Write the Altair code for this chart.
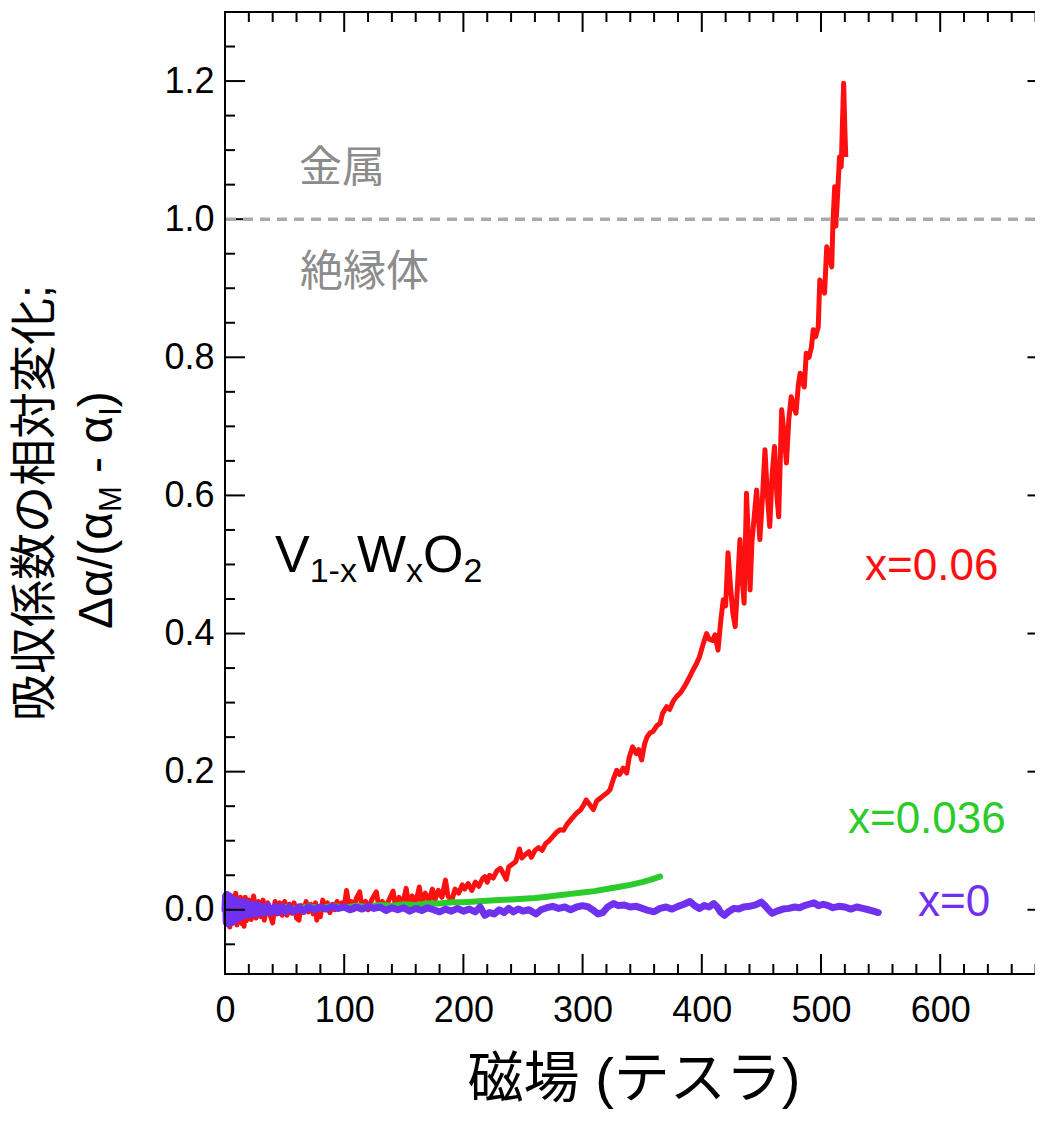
import altair as alt
import pandas as pd

# ---------------- data ----------------
red_pts = [
    (0, 0.0), (1, 0.02), (2, -0.02), (3, 0.022), (4, -0.025), (5, 0.018), (6, -0.02), (7, 0.02),
    (8, -0.018), (9, 0.024), (10, -0.022), (11, 0.015), (12, -0.015), (13, 0.018), (14, -0.02),
    (15, 0.012), (16, -0.024), (17, 0.018), (18, -0.016), (20, 0.014), (22, -0.014), (24, 0.02),
    (26, -0.012), (28, 0.012), (30, -0.01), (32, 0.014), (33, -0.015), (34, -0.006), (36, 0.01),
    (38, -0.008), (40, -0.019), (42, 0.012), (44, -0.006), (46, 0.01), (48, -0.008), (50, 0.012),
    (52, -0.008), (54, 0.008), (56, -0.005), (58, 0.01), (60, -0.012), (62, -0.015), (64, 0.006),
    (66, -0.004), (68, 0.012), (70, -0.003), (72, 0.008), (74, -0.006), (76, 0.01), (77, -0.015),
    (79, 0.004), (80, -0.01), (82, 0.014), (84, 0.0), (86, 0.01), (88, -0.004), (90, 0.008),
    (92, 0.0), (94, 0.012), (96, 0.002), (98, 0.01), (100, 0.004), (102, 0.028), (104, 0.004),
    (106, 0.012), (108, 0.0), (110, 0.016), (113, 0.026), (115, 0.002), (118, 0.012), (120, 0.0),
    (123, 0.014), (127, 0.026), (129, 0.004), (132, 0.012), (135, 0.004), (138, 0.016), (141, 0.027),
    (143, 0.005), (146, 0.018), (149, 0.008), (152, 0.031), (154, 0.008), (157, 0.02), (160, 0.01),
    (163, 0.033), (165, 0.01), (168, 0.024), (171, 0.012), (174, 0.03), (176, 0.014), (179, 0.028),
    (182, 0.018), (185, 0.043), (187, 0.02), (190, 0.012), (193, 0.03), (196, 0.024), (199, 0.036),
    (201, 0.03), (204, 0.038), (207, 0.028), (210, 0.04), (213, 0.034), (216, 0.045), (218, 0.048),
    (220, 0.04), (222, 0.05), (225, 0.046), (228, 0.056), (231, 0.06), (233, 0.054), (236, 0.044),
    (238, 0.062), (241, 0.066), (244, 0.07), (247, 0.088), (249, 0.075), (252, 0.08), (255, 0.084),
    (257, 0.076), (260, 0.086), (263, 0.09), (266, 0.086), (269, 0.096), (272, 0.1), (275, 0.106),
    (278, 0.112), (281, 0.116), (284, 0.115), (287, 0.124), (290, 0.13), (292, 0.134), (295, 0.14),
    (298, 0.144), (301, 0.152), (303, 0.159), (306, 0.152), (309, 0.145), (312, 0.158), (315, 0.162),
    (318, 0.166), (321, 0.17), (323, 0.174), (326, 0.19), (328.6, 0.202), (331, 0.196), (334, 0.205),
    (337, 0.198), (339, 0.22), (342, 0.236), (345, 0.226), (347, 0.232), (349.5, 0.217), (352, 0.24),
    (354, 0.25), (356.5, 0.256), (359, 0.258), (362, 0.266), (365, 0.27), (367, 0.284), (370.5, 0.294),
    (373, 0.29), (376, 0.302), (379, 0.309), (382, 0.314), (385, 0.322), (387, 0.328), (390, 0.338),
    (392, 0.345), (395.7, 0.357), (398, 0.366), (401, 0.384), (404, 0.40), (406, 0.392), (409, 0.39),
    (411, 0.398), (413.6, 0.376), (416, 0.42), (418, 0.449), (420, 0.44), (422, 0.517), (424, 0.47),
    (426, 0.43), (428, 0.41), (430, 0.47), (432, 0.536), (433.5, 0.487), (435.5, 0.444), (437.5, 0.603),
    (439, 0.54), (440.5, 0.463), (442, 0.531), (444, 0.57), (446, 0.608), (448.7, 0.536), (451, 0.6),
    (453, 0.666), (455, 0.6), (457, 0.555), (459, 0.63), (461, 0.671), (463, 0.6), (464.5, 0.569),
    (467, 0.724), (469, 0.69), (471, 0.647), (473, 0.71), (475, 0.743), (477, 0.73), (479, 0.719),
    (481, 0.76), (482.5, 0.777), (484, 0.765), (486, 0.757), (487.6, 0.806), (490, 0.8), (492, 0.815),
    (493.5, 0.84), (495.5, 0.83), (497.7, 0.844), (499, 0.912), (501, 0.9), (503, 0.893), (504.8, 0.96),
    (507, 0.945), (509, 0.931), (510, 0.994), (511.5, 1.047), (512.5, 0.99), (514, 1.038), (515.5, 1.09),
    (517, 1.076), (518, 1.139), (519, 1.197), (520, 1.13), (520.8, 1.09),
]

green_pts = [
    (0, 0.0), (10, 0.004), (20, -0.002), (30, 0.003), (40, 0.0), (50, 0.004), (60, 0.001), (70, 0.005),
    (80, 0.002), (90, 0.006), (100, 0.003), (110, 0.006), (120, 0.004), (130, 0.007), (140, 0.006),
    (150, 0.008), (160, 0.007), (170, 0.009), (180, 0.009), (190, 0.011), (200, 0.011), (210, 0.012),
    (220, 0.013), (230, 0.014), (240, 0.015), (250, 0.016), (260, 0.017), (270, 0.019), (280, 0.021),
    (290, 0.023), (300, 0.025), (310, 0.027), (320, 0.030), (330, 0.033), (340, 0.036), (350, 0.040),
    (358, 0.044), (363, 0.047), (365, 0.048),
]

purple_pts = [
    (0, 0.0), (0.5, 0.02), (1, -0.018), (1.5, 0.022), (2, -0.02), (2.5, 0.018), (3, -0.02), (3.5, 0.02),
    (4, -0.016), (4.5, 0.018), (5, -0.018), (6, 0.016), (6.5, -0.014), (7, 0.016), (8, -0.016),
    (9, 0.014), (10, -0.012), (11, 0.012), (12, -0.012), (13, 0.01), (14, -0.01), (15, 0.012),
    (16, -0.008), (18, 0.01), (20, -0.008), (22, 0.008), (24, -0.006), (26, 0.008), (28, -0.006),
    (30, 0.006), (33, -0.005), (36, 0.006), (39, -0.004), (42, 0.005), (45, -0.004), (48, 0.005),
    (51, -0.003), (54, 0.004), (58, -0.003), (62, 0.004), (66, -0.002), (70, 0.004), (75, 0.0),
    (80, 0.004), (85, 0.001), (90, 0.005), (95, 0.002), (100, 0.004), (105, 0.0), (110, 0.004),
    (115, 0.001), (120, 0.005), (125, 0.002), (130, 0.004), (135, -0.001), (140, 0.003), (145, 0.0),
    (150, 0.003), (155, -0.002), (160, 0.002), (165, -0.001), (170, 0.003), (175, 0.0), (180, -0.003),
    (185, 0.001), (190, -0.002), (195, 0.002), (200, -0.002), (205, 0.001), (210, -0.003), (214, 0.004),
    (218, -0.008), (222, -0.004), (226, -0.006), (230, 0.0), (234, -0.004), (238, 0.002), (242, -0.003),
    (246, 0.001), (250, -0.002), (255, 0.0), (261, -0.006), (265, 0.0), (270, 0.003), (275, 0.005),
    (280, 0.002), (285, 0.004), (290, 0.0), (295, 0.004), (300, 0.006), (305, 0.004), (310, -0.002),
    (313, -0.006), (317, -0.004), (321, 0.004), (326, 0.009), (330, 0.006), (335, 0.007), (340, 0.004),
    (345, 0.005), (350, 0.002), (355, -0.001), (360, -0.003), (365, 0.002), (370, 0.004), (375, 0.001),
    (380, 0.005), (385, 0.008), (390, 0.012), (394, 0.006), (398, 0.002), (402, 0.006), (406, 0.004),
    (410, 0.009), (413, 0.004), (416, -0.004), (419, -0.008), (423, -0.002), (427, 0.002), (431, 0.001),
    (435, 0.004), (440, 0.005), (445, 0.007), (450, 0.011), (453, 0.006), (456, 0.0), (459, -0.005),
    (463, -0.002), (468, 0.001), (473, 0.002), (478, 0.004), (482, 0.003), (486, 0.006), (490, 0.008),
    (494, 0.01), (498, 0.006), (502, 0.008), (506, 0.006), (510, 0.003), (515, 0.005), (520, 0.004),
    (525, 0.001), (530, 0.004), (535, 0.002), (540, 0.0), (544, -0.002), (548, -0.004),
]

x_major = [0, 100, 200, 300, 400, 500, 600]
x_minor = [t for t in range(20, 690, 20) if t % 100 != 0]
y_major = [0.0, 0.2, 0.4, 0.6, 0.8, 1.0, 1.2]
y_minor = [-0.05, 0.05, 0.1, 0.15, 0.25, 0.3, 0.35, 0.45, 0.5, 0.55, 0.65, 0.7, 0.75,
           0.85, 0.9, 0.95, 1.05, 1.1, 1.15, 1.25]

series_labels = ["x=0.06", "x=0.036", "x=0"]
label_T = [537, 522.6, 581.4]
label_v = [0.496, 0.130, 0.0098]

RED = "#ff1010"
GREEN = "#2ccb2c"
PURPLE = "#7030f0"
GRAY_TXT = "#8c8c8c"
LAT = "Liberation Sans"
MIX = "Liberation Sans, Noto Sans CJK JP"

# ---------------- layout ----------------
SCALE = 1.192          # px per tesla
W, H = 810, 962        # plot area (right frame lies just beyond the page edge)
XMAX = W / SCALE
RX = 690 * SCALE       # virtual right frame position
XS = alt.Scale(domain=[0, XMAX], nice=False, zero=False)
YS = alt.Scale(domain=[-0.093, 1.3], nice=False, zero=False)


def df(pts):
    return pd.DataFrame({"T": [p[0] for p in pts], "v": [p[1] for p in pts]})


x_axis = alt.Axis(values=x_major, format="d", labelFont=LAT, labelFontSize=36, labelColor="black",
                  labelPadding=19, labelFlush=False, labelOverlap=False, ticks=False, tickSize=0,
                  domain=False, grid=False, title=None)
y_axis = alt.Axis(values=y_major, format=".1f", labelFont=LAT, labelFontSize=36, labelColor="black",
                  labelPadding=11, labelFlush=False, labelOverlap=False, ticks=False, tickSize=0,
                  domain=False, grid=False, title=None)


def X():
    return alt.X("T:Q", scale=XS, axis=x_axis)


def Y():
    return alt.Y("v:Q", scale=YS, axis=y_axis)


layers = []

# data lines (first layer carries the axes)
layers.append(alt.Chart(df(red_pts)).mark_line(color=RED, strokeWidth=5, strokeJoin="round").encode(
    x=X(), y=Y()))
layers.append(alt.Chart(df(green_pts)).mark_line(color=GREEN, strokeWidth=6, strokeJoin="round",
                                                 strokeCap="round").encode(x=X(), y=Y()))
layers.append(alt.Chart(df(purple_pts)).mark_line(color=PURPLE, strokeWidth=7, strokeJoin="round",
                                                  strokeCap="round").encode(x=X(), y=Y()))

# frame
frame = alt.Chart(pd.DataFrame({"k": [0]}))
layers.append(frame.mark_rule(color="black", strokeWidth=2, strokeCap="square").encode(
    x=alt.value(0), x2=alt.value(W + 10), y=alt.value(0)))
layers.append(frame.mark_rule(color="black", strokeWidth=2, strokeCap="square").encode(
    x=alt.value(0), x2=alt.value(W + 10), y=alt.value(H)))
layers.append(frame.mark_rule(color="black", strokeWidth=2, strokeCap="square").encode(
    x=alt.value(0), y=alt.value(0), y2=alt.value(H)))

# inward ticks on all four sides
for vals, ln in ((x_major, 20), (x_minor, 10)):
    d = pd.DataFrame({"T": vals})
    layers.append(alt.Chart(d).mark_rule(color="black", strokeWidth=2).encode(
        x=X(), y=alt.value(H), y2=alt.value(H - ln)))
    layers.append(alt.Chart(d).mark_rule(color="black", strokeWidth=2).encode(
        x=X(), y=alt.value(0), y2=alt.value(ln)))
for vals, ln in ((y_major, 20), (y_minor, 10)):
    d = pd.DataFrame({"v": vals})
    layers.append(alt.Chart(d).mark_rule(color="black", strokeWidth=2).encode(
        y=Y(), x=alt.value(0), x2=alt.value(ln)))
    layers.append(alt.Chart(d).mark_rule(color="black", strokeWidth=2).encode(
        y=Y(), x=alt.value(RX), x2=alt.value(RX - ln)))

# dashed metal/insulator boundary (drawn over the ticks)
layers.append(alt.Chart(pd.DataFrame({"v": [1.0]})).mark_rule(
    color="#aaaaaa", strokeWidth=3.5, strokeDash=[10, 7]).encode(y=Y()))

# in-plot annotations
ann = pd.DataFrame({"T": [62, 63], "v": [1.073, 0.922], "s": ["金属", "絶縁体"]})
layers.append(alt.Chart(ann).mark_text(font=MIX, fontSize=43, color=GRAY_TXT, align="left",
                                       baseline="middle").encode(x=X(), y=Y(), text="s:N"))

for s, t, v, c in zip(series_labels, label_T, label_v, [RED, GREEN, PURPLE]):
    d = pd.DataFrame({"T": [t], "v": [v], "s": [s]})
    layers.append(alt.Chart(d).mark_text(font=LAT, fontSize=44, color=c, align="left",
                                         baseline="middle").encode(x=X(), y=Y(), text="s:N"))


def txt(s, x, y, size, angle=0, align="left", baseline="alphabetic", font=LAT, color="black"):
    kw = dict(font=font, fontSize=size, color=color, align=align, baseline=baseline)
    if angle:
        kw["angle"] = angle
    return alt.Chart(pd.DataFrame({"s": [s]})).mark_text(**kw).encode(
        x=alt.value(x), y=alt.value(y), text="s:N")


# compound formula V1-xWxO2
for s, x, y, size in (("V", 50, 560, 52), ("1-x", 84.7, 570, 34), ("W", 132, 560, 52),
                      ("x", 181.1, 570, 34), ("O", 198.1, 560, 52), ("2", 238.5, 570, 34)):
    layers.append(txt(s, x, y, size))

# x-axis title
layers.append(txt("磁場 (テスラ)", 409, 1085, 56, align="center", font=MIX))

# y-axis title (two rotated lines, second with subscripts)
layers.append(txt("吸収係数の相対変化;", -189, 491, 47, angle=270, align="center",
                  baseline="middle", font=MIX))
for s, y, x, size in (("Δα/(α", 617, -113, 48), ("M", 500.1, -104, 31), ("- α", 460.9, -113, 48),
                      ("I", 403.8, -104, 31), (")", 395.2, -113, 48)):
    layers.append(txt(s, x, y, size, angle=270))

chart = alt.layer(*layers).properties(
    width=W, height=H,
    autosize=alt.AutoSizeParams(type="none"),
    padding={"left": 217, "top": 4, "right": 0, "bottom": 136},
).configure_view(stroke="transparent")

chart.save("out.html", embed_options={"renderer": "svg", "actions": False})
